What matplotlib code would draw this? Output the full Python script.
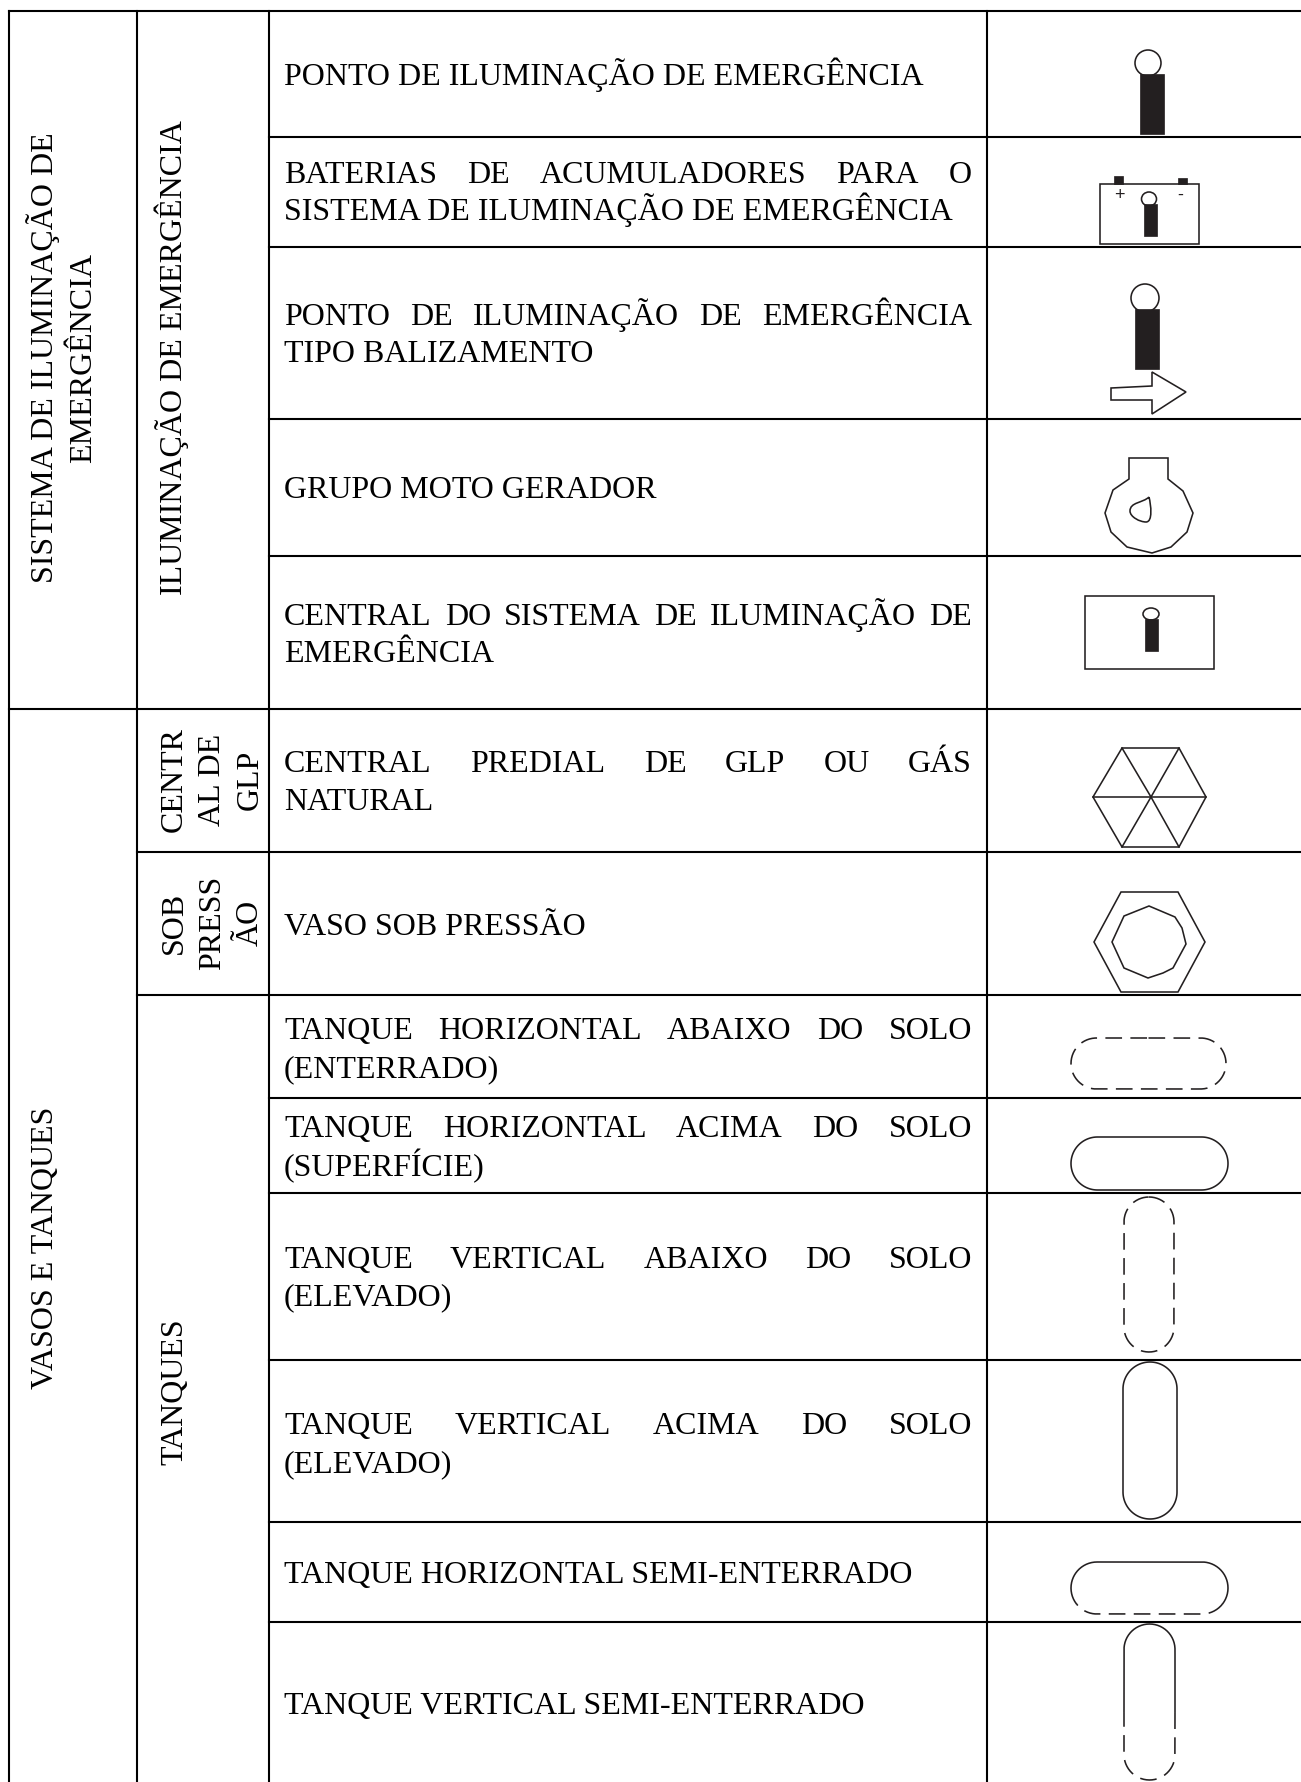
import numpy as np
import matplotlib
matplotlib.use("Agg")
import matplotlib.pyplot as plt
from matplotlib.patches import Ellipse, PathPatch, Rectangle, Polygon
from matplotlib.path import Path

plt.rcParams["font.family"] = ["Liberation Serif", "DejaVu Serif"]
plt.rcParams["lines.scale_dashes"] = False

W, H = 1301, 1782
FONT = 23
INK = "#231f20"
LW = 1.15
DASH = (0, (12, 6))

# table grid, pixels of the page
col_x = [9, 137, 269, 987]
full_rows = [11, 709]
rows_from_col2 = [852, 995]
rows_from_col3 = [137, 247, 419, 556, 1098, 1193, 1360, 1522, 1622]

# description text: line, baseline, justified or not
desc_text = ["PONTO DE ILUMINAÇÃO DE EMERGÊNCIA",
             "BATERIAS DE ACUMULADORES PARA O",
             "SISTEMA DE ILUMINAÇÃO DE EMERGÊNCIA",
             "PONTO DE ILUMINAÇÃO DE EMERGÊNCIA",
             "TIPO BALIZAMENTO",
             "GRUPO MOTO GERADOR",
             "CENTRAL DO SISTEMA DE ILUMINAÇÃO DE",
             "EMERGÊNCIA",
             "CENTRAL PREDIAL DE GLP OU GÁS",
             "NATURAL",
             "VASO SOB PRESSÃO",
             "TANQUE HORIZONTAL ABAIXO DO SOLO",
             "(ENTERRADO)",
             "TANQUE HORIZONTAL ACIMA DO SOLO",
             "(SUPERFÍCIE)",
             "TANQUE VERTICAL ABAIXO DO SOLO",
             "(ELEVADO)",
             "TANQUE VERTICAL ACIMA DO SOLO",
             "(ELEVADO)",
             "TANQUE HORIZONTAL SEMI-ENTERRADO",
             "TANQUE VERTICAL SEMI-ENTERRADO"]
desc_y = [85, 183, 220, 325, 362, 498, 625, 662, 772, 810, 935,
          1039, 1077, 1137, 1176, 1268, 1305, 1434, 1472, 1583, 1714]
desc_just = [0, 1, 0, 1, 0, 0, 1, 0, 1, 0, 0, 1, 0, 1, 0, 1, 0, 1, 0, 0, 0]

# rotated labels of the two left columns, x is the baseline
side_text = ["SISTEMA DE ILUMINAÇÃO DE", "EMERGÊNCIA", "ILUMINAÇÃO DE EMERGÊNCIA",
             "VASOS E TANQUES", "TANQUES",
             "CENTR", "AL DE", "GLP", "SOB", "PRESS", "ÃO"]
side_x = [53, 91, 182, 53, 182, 182, 220, 258, 182, 220, 258]
side_y = [358, 358, 358, 1248, 1392, 780, 780, 780, 923, 923, 923]

# symbols
lamps = [(1148, 63, 13, 13, 1140, 74, 24, 60),
         (1149, 199, 7.5, 7, 1144, 204, 13, 32),
         (1145, 298, 14, 14, 1135, 309, 24, 60),
         (1151, 614, 8, 6, 1145, 619, 13, 32)]
battery_box = (1100, 184, 99, 60)
battery_posts = [(1114, 176, 9, 8), (1178, 178, 9, 6)]
arrow = [(1111, 388), (1152, 386), (1152, 372), (1186, 392), (1152, 414), (1152, 400), (1111, 400)]
generator = [(1129, 458), (1168, 458), (1168, 479), (1183, 491), (1193, 513), (1187, 532),
             (1171, 547), (1152, 553), (1127, 547), (1111, 532), (1105, 513), (1113, 490), (1129, 479)]
drop = [(1149, 497), (1143, 503), (1130, 502), (1130, 511), (1130, 517), (1140, 522),
        (1146, 522), (1153, 522), (1151, 505), (1149, 497)]
central_box = (1085, 596, 129, 73)
hex_outer = [(1122, 748), (1179, 748), (1206, 797), (1179, 847), (1122, 847), (1093, 797)]
hex_center = (1151, 797)
hex2_outer = [(1121, 892), (1178, 892), (1205, 942), (1178, 992), (1121, 992), (1094, 942)]
hex2_inner = [(1149, 906), (1175, 917), (1182, 928), (1186, 944), (1173, 968), (1163, 973),
              (1148, 978), (1124, 968), (1112, 942), (1124, 916)]
# x0, x1, y0, y1 of the stadium shaped tanks
tank_h_buried = (1071, 1226, 1038, 1089)
tank_h_surface = (1071, 1228, 1137, 1190)
tank_v_buried = (1124, 1174, 1197, 1352)
tank_v_surface = (1123, 1177, 1362, 1519)
tank_h_semi = (1071, 1228, 1562, 1614)
tank_v_semi = (1124, 1175, 1624, 1780)
h_semi_split = 1604
v_semi_split = 1712


def stadium(x0, x1, y0, y1):
    """Closed outline of a tank, resampled evenly so it can be split anywhere."""
    r = min(x1 - x0, y1 - y0) / 2
    pts = []
    for cx, cy, a0 in [(x1 - r, y0 + r, -90), (x1 - r, y1 - r, 0), (x0 + r, y1 - r, 90), (x0 + r, y0 + r, 180)]:
        ang = np.radians(np.linspace(a0, a0 + 90, 30))
        pts.append(np.column_stack([cx + r * np.cos(ang), cy + r * np.sin(ang)]))
    pts = np.vstack(pts)
    pts = np.vstack([[(x0 + x1) / 2, y0], pts, [(x0 + x1) / 2, y0]])
    dist = np.concatenate([[0], np.cumsum(np.hypot(*np.diff(pts, axis=0).T))])
    s = np.linspace(0, dist[-1], 800)
    return np.column_stack([np.interp(s, dist, pts[:, 0]), np.interp(s, dist, pts[:, 1])])


def draw_semi(ax, box, split):
    # solid above the split, dashed below
    pts = stadium(*box)[:-1]
    up = pts[:, 1] <= split
    start = np.where(up & ~np.roll(up, 1))[0][0]
    pts = np.roll(pts, -start, axis=0)
    up = np.roll(up, -start)
    n = up.sum()
    ax.plot(pts[:n, 0], pts[:n, 1], color=INK, lw=LW)
    ax.plot(pts[n:, 0], pts[n:, 1], color=INK, lw=LW, ls=DASH)


def draw_justified(ax, renderer, line, y, x0=284, x1=972):
    words = line.split()
    items = [ax.text(x0, y, w, fontsize=FONT, color="black", va="baseline") for w in words]
    widths = [t.get_window_extent(renderer).width for t in items]
    gap = (x1 - x0 - sum(widths)) / (len(words) - 1)
    x = x0
    for t, w in zip(items, widths):
        t.set_x(x)
        x += w + gap


fig = plt.figure(figsize=(W / 100, H / 100), dpi=100)
ax = fig.add_axes([0, 0, 1, 1])
ax.set_xlim(0, W)
ax.set_ylim(H, 0)
ax.axis("off")
renderer = fig.canvas.get_renderer()

# grid
for x in col_x:
    ax.plot([x, x], [11, H], color="black", lw=1.5, solid_capstyle="projecting")
for y in full_rows:
    ax.plot([col_x[0], W], [y, y], color="black", lw=1.5)
for y in rows_from_col2:
    ax.plot([col_x[1], W], [y, y], color="black", lw=1.5)
for y in rows_from_col3:
    ax.plot([col_x[2], W], [y, y], color="black", lw=1.5)

# text
for line, y, just in zip(desc_text, desc_y, desc_just):
    if just:
        draw_justified(ax, renderer, line, y)
    else:
        ax.text(284, y, line, fontsize=FONT, color="black", va="baseline")
for line, x, y in zip(side_text, side_x, side_y):
    ax.text(x, y, line, fontsize=FONT, color="black", rotation=90,
            ha="center", va="baseline", rotation_mode="anchor")

# lamp symbols
for cx, cy, rx, ry, bx, by, bw, bh in lamps:
    ax.add_patch(Ellipse((cx, cy), 2 * rx, 2 * ry, fill=False, ec=INK, lw=LW))
    ax.add_patch(Rectangle((bx, by), bw, bh, fc=INK, ec=INK, lw=0.5))

# battery
ax.add_patch(Rectangle(battery_box[:2], battery_box[2], battery_box[3], fill=False, ec=INK, lw=LW))
for p in battery_posts:
    ax.add_patch(Rectangle(p[:2], p[2], p[3], fc=INK, ec=INK, lw=0.5))
ax.text(1119, 196, "+", fontsize=13, color=INK, ha="center", va="center", family="Liberation Sans")
ax.text(1180, 195, "-", fontsize=13, color=INK, ha="center", va="center", family="Liberation Sans")

ax.add_patch(Polygon(arrow, closed=True, fill=False, ec=INK, lw=LW))
ax.add_patch(Polygon(generator, closed=True, fill=False, ec=INK, lw=LW))
ax.add_patch(PathPatch(Path(drop, [Path.MOVETO] + [Path.CURVE4] * 9), fill=False, ec=INK, lw=LW))
ax.add_patch(Rectangle(central_box[:2], central_box[2], central_box[3], fill=False, ec=INK, lw=LW))

# hexagons
ax.add_patch(Polygon(hex_outer, closed=True, fill=False, ec=INK, lw=LW))
for vx, vy in hex_outer:
    ax.plot([vx, hex_center[0]], [vy, hex_center[1]], color=INK, lw=LW)
ax.add_patch(Polygon(hex2_outer, closed=True, fill=False, ec=INK, lw=LW))
ax.add_patch(Polygon(hex2_inner, closed=True, fill=False, ec=INK, lw=LW))

# tanks
for box in [tank_h_surface, tank_v_surface]:
    ax.add_patch(Polygon(stadium(*box)[:-1], closed=True, fill=False, ec=INK, lw=LW))
for box in [tank_h_buried, tank_v_buried]:
    pts = stadium(*box)
    ax.plot(pts[:, 0], pts[:, 1], color=INK, lw=LW, ls=DASH)
draw_semi(ax, tank_h_semi, h_semi_split)
draw_semi(ax, tank_v_semi, v_semi_split)

fig.savefig("out.png", dpi=100)
